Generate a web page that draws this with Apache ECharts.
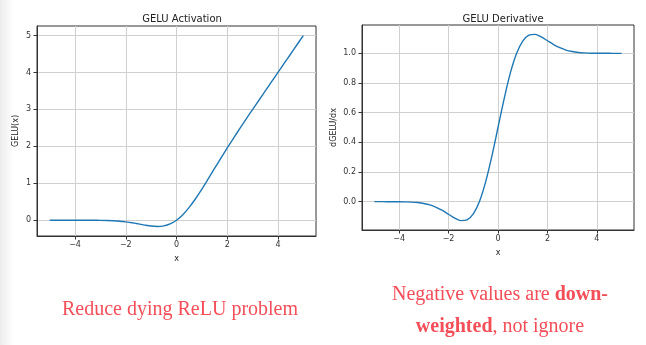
<!DOCTYPE html>
<html>
<head>
<meta charset="utf-8">
<script src="https://cdn.jsdelivr.net/npm/echarts@6/dist/echarts.min.js"></script>
<style>html,body{margin:0;padding:0;background:#fff;}#c{width:646px;height:345px;}</style>
</head>
<body>
<div id="c"></div>
<script>
// x positions
var xs = [-5,-4.75,-4.5,-4.25,-4,-3.75,-3.5,-3.25,-3,-2.75,-2.5,-2.25,-2,-1.75,-1.5,-1.25,-1,-0.75,-0.5,-0.25,0,0.25,0.5,0.75,1,1.25,1.5,1.75,2,2.25,2.5,2.75,3,3.25,3.5,3.75,4,4.25,4.5,4.75,5];
// GELU(x) values
var geluVals = [0,0,0,-0.0001,-0.0001,-0.0003,-0.0008,-0.0019,-0.004,-0.008,-0.016,-0.027,-0.046,-0.070,-0.100,-0.132,-0.159,-0.170,-0.154,-0.100,0,0.150,0.346,0.580,0.841,1.118,1.400,1.680,1.955,2.223,2.485,2.742,2.996,3.248,3.499,3.750,4.000,4.250,4.500,4.750,5.000];
// dGELU/dx values
var dgeluVals = [0,0,-0.0001,-0.0002,-0.0005,-0.0012,-0.0028,-0.006,-0.012,-0.022,-0.038,-0.059,-0.085,-0.111,-0.128,-0.123,-0.083,0.001,0.133,0.305,0.5,0.695,0.868,0.999,1.083,1.123,1.128,1.111,1.085,1.059,1.038,1.022,1.012,1.006,1.003,1.001,1.0005,1.0002,1.0001,1,1];
var xTicks = [-4,-2,0,2,4];
var y1Ticks = [0,1,2,3,4,5];
var y2Ticks = [0,0.2,0.4,0.6,0.8,1.0];

function pairs(a, b) { return a.map(function (v, i) { return [v, b[i]]; }); }
function minus(v) { return String(v).replace('-', '\u2212'); }
function fmt1(v) { return minus(v.toFixed(1)); }

var RED = '#f44e59';
var tickFont = { fontFamily: 'DejaVu Sans', fontSize: 8, color: '#333' };
function xAxisCfg(gi) {
  return {
    type: 'value', gridIndex: gi, min: -5.5, max: 5.5, minInterval: 2, maxInterval: 2,
    name: 'x', nameLocation: 'middle', nameGap: 19,
    nameTextStyle: { fontFamily: 'DejaVu Sans', fontSize: 8, color: '#222' },
    axisLine: { show: true, onZero: false, lineStyle: { color: '#333', width: 1 } },
    axisTick: { show: true, length: 3.5, customValues: xTicks, lineStyle: { color: '#333' } },
    axisLabel: Object.assign({ margin: 5, customValues: xTicks, formatter: function (v) { return minus(v); } }, tickFont),
    splitLine: { show: true, lineStyle: { color: '#d0d0d0', width: 1 } }
  };
}
function yAxisCfg(gi, mn, mx, iv, ticks, name, gap, f) {
  return {
    type: 'value', gridIndex: gi, min: mn, max: mx, minInterval: iv, maxInterval: iv,
    name: name, nameLocation: 'middle', nameGap: gap, nameRotate: 90,
    nameTextStyle: { fontFamily: 'DejaVu Sans', fontSize: 8, color: '#222' },
    axisLine: { show: true, onZero: false, lineStyle: { color: '#333', width: 1 } },
    axisTick: { show: true, length: 3.5, customValues: ticks, lineStyle: { color: '#333' } },
    axisLabel: Object.assign({ margin: 6, customValues: ticks, formatter: f }, tickFont),
    splitLine: { show: true, lineStyle: { color: '#d0d0d0', width: 1 } }
  };
}

var chart = echarts.init(document.getElementById('c'), null, { renderer: 'canvas' });
chart.setOption({
  backgroundColor: '#fff',
  animation: false,
  title: [
    { text: 'GELU Activation', left: 177, top: 9, textAlign: 'center',
      textStyle: { fontFamily: 'DejaVu Sans', fontSize: 10, fontWeight: 'normal', color: '#222' } },
    { text: 'GELU Derivative', left: 498, top: 9, textAlign: 'center',
      textStyle: { fontFamily: 'DejaVu Sans', fontSize: 10, fontWeight: 'normal', color: '#222' } }
  ],
  grid: [
    { left: 37, top: 26, width: 279, height: 210, show: true, borderColor: '#333', borderWidth: 1, backgroundColor: 'transparent' },
    { left: 362, top: 25, width: 272, height: 205, show: true, borderColor: '#333', borderWidth: 1, backgroundColor: 'transparent' }
  ],
  xAxis: [xAxisCfg(0), xAxisCfg(1)],
  yAxis: [
    yAxisCfg(0, -0.428, 5.258, 1, y1Ticks, 'GELU(x)', 17, function (v) { return minus(v); }),
    yAxisCfg(1, -0.191, 1.191, 0.2, y2Ticks, 'dGELU/dx', 24, fmt1)
  ],
  series: [
    { type: 'line', xAxisIndex: 0, yAxisIndex: 0, data: pairs(xs, geluVals), showSymbol: false, smooth: 0.3,
      lineStyle: { color: '#1f77b4', width: 1.4 }, z: 5 },
    { type: 'line', xAxisIndex: 1, yAxisIndex: 1, data: pairs(xs, dgeluVals), showSymbol: false, smooth: 0.3,
      lineStyle: { color: '#1f77b4', width: 1.4 }, z: 5 }
  ],
  graphic: [
    { type: 'rect', left: 0, top: 0, z: -10, shape: { width: 14, height: 345 },
      style: { fill: new echarts.graphic.LinearGradient(0, 0, 1, 0, [{ offset: 0, color: '#ececec' }, { offset: 1, color: '#ffffff' }]) } },
    { type: 'text', x: 180, y: 310, style: {
        text: 'Reduce dying ReLU problem', align: 'center', verticalAlign: 'middle',
        fontFamily: 'Liberation Serif', fontSize: 20, fill: RED } },
    { type: 'text', x: 500, y: 295, style: {
        text: '{n|Negative values are }{b|down-}', align: 'center', verticalAlign: 'middle', fill: RED,
        rich: { n: { fontFamily: 'Liberation Serif', fontSize: 20, fill: RED },
                b: { fontFamily: 'Liberation Serif', fontSize: 20, fontWeight: 'bold', fill: RED } } } },
    { type: 'text', x: 500, y: 327, style: {
        text: '{b|weighted}{n|, not ignore}', align: 'center', verticalAlign: 'middle', fill: RED,
        rich: { n: { fontFamily: 'Liberation Serif', fontSize: 20, fill: RED },
                b: { fontFamily: 'Liberation Serif', fontSize: 20, fontWeight: 'bold', fill: RED } } } }
  ]
});
</script>
</body>
</html>
